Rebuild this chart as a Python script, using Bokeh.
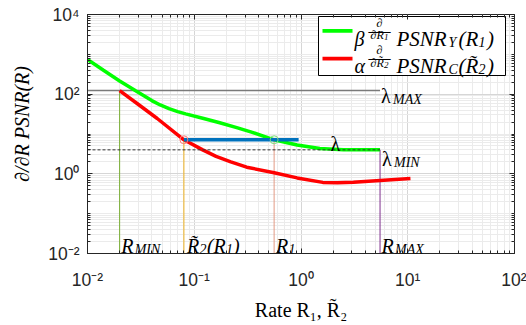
import math
from bokeh.plotting import figure
from bokeh.models import (FixedTicker, CustomJSTickFormatter, Label, BoxAnnotation, LogAxis,
                          ColumnDataSource, Range1d)
from bokeh.embed import file_html
from bokeh.resources import INLINE

# ---------------- data ----------------
green_x = [0.01, 0.014, 0.02, 0.028, 0.04, 0.048, 0.058, 0.07, 0.083, 0.12, 0.17, 0.25, 0.35, 0.56, 0.92, 1.5, 2.5, 5.5]
green_y = [740, 404, 215, 123, 69, 53.5, 43.4, 36.6, 32, 24.8, 19.5, 14.5, 11, 7.15, 5.3, 4.3, 4.05, 4.0]
red_x = [0.02, 0.03, 0.045, 0.08, 0.12, 0.16, 0.22, 0.31, 0.56, 0.92, 1.6, 2.2, 3.1, 5.5, 10.6]
red_y = [123, 55, 24.5, 7.15, 4.0, 2.75, 2.0, 1.47, 1.06, 0.79, 0.61, 0.595, 0.615, 0.68, 0.76]
R_MIN, R2, R1, R_MAX = 0.02, 0.08, 0.56, 5.5
LAMBDA, LAMBDA_MAX, LAMBDA_MIN = 7.15, 123, 4.0
BLUE_END = 0.95
x_major = [1e-2, 1e-1, 1e0, 1e1, 1e2]
y_major = [1e-2, 1e0, 1e2, 1e4]
x_minor = [k * 10.0 ** e for e in range(-2, 2) for k in range(2, 10)]
y_minor = [k * 10.0 ** e for e in range(-2, 4) for k in range(1, 10) if k * 10.0 ** e not in y_major]
GREEN, RED, BLUE = "#00ff00", "#ff0000", "#0072BD"
X_LABEL = "Rate R\u2081, R\u0303\u2082"
Y_LABEL = "\u2002\u2002\u2202/\u2202R PSNR(R)"

# ---------------- figure ----------------
p = figure(width=526, height=325, x_axis_type="log", y_axis_type="log",
           x_range=Range1d(1e-2, 1e2), y_range=Range1d(1e-2, 1e4),
           output_backend="svg", toolbar_location=None,
           min_border_left=87, min_border_right=12, min_border_top=14, min_border_bottom=72)
p.background_fill_color = "white"
p.outline_line_color = "#262626"
p.outline_line_width = 1

fmt = CustomJSTickFormatter(code="""
const sup = {'-':'\u207b','0':'\u2070','1':'\u00b9','2':'\u00b2','3':'\u00b3','4':'\u2074'};
const e = Math.round(Math.log10(tick));
return '10' + String(e).split('').map(c => sup[c]).join('');
""")
p.xaxis.ticker = FixedTicker(ticks=x_major, minor_ticks=x_minor)
p.yaxis.ticker = FixedTicker(ticks=y_major, minor_ticks=y_minor)
for ax in (p.xaxis, p.yaxis):
    ax.formatter = fmt
    ax.major_label_text_font = "Liberation Sans"
    ax.major_label_text_font_size = "17.5px"
    ax.major_label_text_color = "#262626"
    ax.axis_line_color = "#262626"
    ax.major_tick_line_color = "#262626"
    ax.minor_tick_line_color = "#262626"
    ax.major_tick_in = 5
    ax.major_tick_out = 0
    ax.minor_tick_in = 3
    ax.minor_tick_out = 0
    ax.axis_label_text_font = "Liberation Serif"
    ax.axis_label_text_font_size = "20px"
    ax.axis_label_text_color = "black"
p.xaxis.major_label_standoff = 16
p.yaxis.major_label_standoff = 8
p.xaxis.axis_label = X_LABEL
p.xaxis.axis_label_text_font_style = "normal"
p.xaxis.axis_label_standoff = 6
p.yaxis.axis_label = Y_LABEL
p.yaxis.axis_label_text_font_style = "italic"
p.yaxis.axis_label_standoff = 12

# mirrored tick marks on the top and right edges (no labels)
blank = CustomJSTickFormatter(code="return ''")
for place, ticks, minor in (("above", x_major, x_minor), ("right", y_major, y_minor)):
    ax = LogAxis(ticker=FixedTicker(ticks=ticks, minor_ticks=minor), formatter=blank,
                 major_label_text_font_size="0px", major_label_standoff=0,
                 axis_line_color=None, major_tick_in=5, major_tick_out=0,
                 minor_tick_in=3, minor_tick_out=0,
                 major_tick_line_color="#262626", minor_tick_line_color="#262626")
    p.add_layout(ax, place)

for g in (p.xgrid, p.ygrid):
    g.grid_line_color = "#d6d6d6"
    g.minor_grid_line_color = "#ebebeb"

FX0, FY0 = 87, 253  # frame origin in picture pixels (left, bottom)
SERIF = "Liberation Serif"


def box(il, ir, it, ib, fill, line=None):
    p.add_layout(BoxAnnotation(left=il - FX0, right=ir - FX0, top=FY0 - it, bottom=FY0 - ib,
                               left_units="screen", right_units="screen",
                               top_units="screen", bottom_units="screen",
                               fill_color=fill, fill_alpha=1.0,
                               line_color=line, line_width=1, line_alpha=1.0 if line else 0.0,
                               level="underlay"))


# legend box and swatches (drawn under the glyphs, above the grid)
box(318, 505, 16, 75, "white", "#000000")
box(322, 352, 28.5, 32.2, GREEN)
box(322, 352, 56.2, 59.9, RED)

# ---------------- marks ----------------
vsrc = ColumnDataSource(dict(x=[R_MIN, R2, R1, R_MAX],
                             y1=[LAMBDA_MAX, LAMBDA, LAMBDA, LAMBDA_MIN],
                             c=["#77AC30", "#EDB120", "#E39A85", "#7E2F8E"]))
p.segment(x0="x", y0=1e-2, x1="x", y1="y1", source=vsrc, line_color="c", line_width=1)
p.segment(x0=[1e-2], y0=[LAMBDA_MAX], x1=[R_MAX], y1=[LAMBDA_MAX], line_color="#7a7a7a", line_width=1.5)

p.line(green_x, green_y, line_color=GREEN, line_width=3.5)
p.line(red_x, red_y, line_color=RED, line_width=3.5)
p.line([R2, BLUE_END], [LAMBDA, LAMBDA], line_color=BLUE, line_width=3.5)
p.segment(x0=[1e-2], y0=[LAMBDA_MIN], x1=[R_MAX], y1=[LAMBDA_MIN], line_color="#333333",
          line_width=1, line_dash="3 2")
p.scatter([R2], [LAMBDA], size=8, fill_color=None, line_color="#ff7a7a", line_width=1)
p.scatter([R1], [LAMBDA], size=8, fill_color=None, line_color="#7ee07e", line_width=1)


def lab(ix, iy, text, size, italic=True, align="left", xdata=None):
    kw = dict(text=text, text_font=SERIF, text_font_size=f"{size}px",
              text_font_style="italic" if italic else "normal", text_align=align,
              text_baseline="alphabetic", text_color="black",
              y=FY0 - iy, y_units="screen")
    if xdata is None:
        kw.update(x=ix - FX0, x_units="screen")
    else:
        kw.update(x=xdata, x_units="data", x_offset=ix)
    p.add_layout(Label(**kw))


# bottom labels tied to the vertical lines
lab(1.5, 245.5, "R", 20, xdata=R_MIN)
lab(15, 248.5, "MIN", 14, xdata=R_MIN)
lab(3, 245.5, "R\u0303", 20, xdata=R2)
lab(15.5, 248.5, "2", 14, xdata=R2)
lab(23, 245.5, "(R", 20, xdata=R2)
lab(42, 248.5, "1", 14, xdata=R2)
lab(49, 245.5, ")", 20, xdata=R2)
lab(2, 245.5, "R", 20, xdata=R1)
lab(14.5, 248.5, "1", 14, xdata=R1)
lab(1.5, 245.5, "R", 20, xdata=R_MAX)
lab(15, 248.5, "MAX", 14, xdata=R_MAX)

# lambda labels
lab(1, 95, "\u03bb", 20, italic=False, xdata=R_MAX)
lab(13, 98.5, "MAX", 14, xdata=R_MAX)
lab(2, 158, "\u03bb", 20, italic=False, xdata=R_MAX)
lab(14, 161.5, "MIN", 14, xdata=R_MAX)
lab(330, 143, "\u03bb", 20, italic=False)

# legend texts
for (base, numy, bary, deny, den, sub, arg, idx, coef) in [
        (38.5, 22.5, 29.5, 34, "\u2202R", "Y", "R", "1", "\u03b2"),
        (65.5, 49.5, 56.5, 62.5, "\u2202R\u0303", "C", "R\u0303", "2", "\u03b1")]:
    lab(354, base, coef, 20)
    lab(379, numy, "\u2202", 12, align="center")
    lab(379, bary, "\u2014", 22, italic=False, align="center")
    lab(370, deny, den, 12)
    lab(383.5, deny + 2, idx, 9)
    lab(396, base, "PSNR", 21)
    lab(448, base + 3, sub, 14)
    lab(458, base, "(" + arg, 21)
    lab(478, base + 3, idx, 14)
    lab(486.5, base, ")", 21)

open("out.html", "w").write(file_html(p, INLINE))
